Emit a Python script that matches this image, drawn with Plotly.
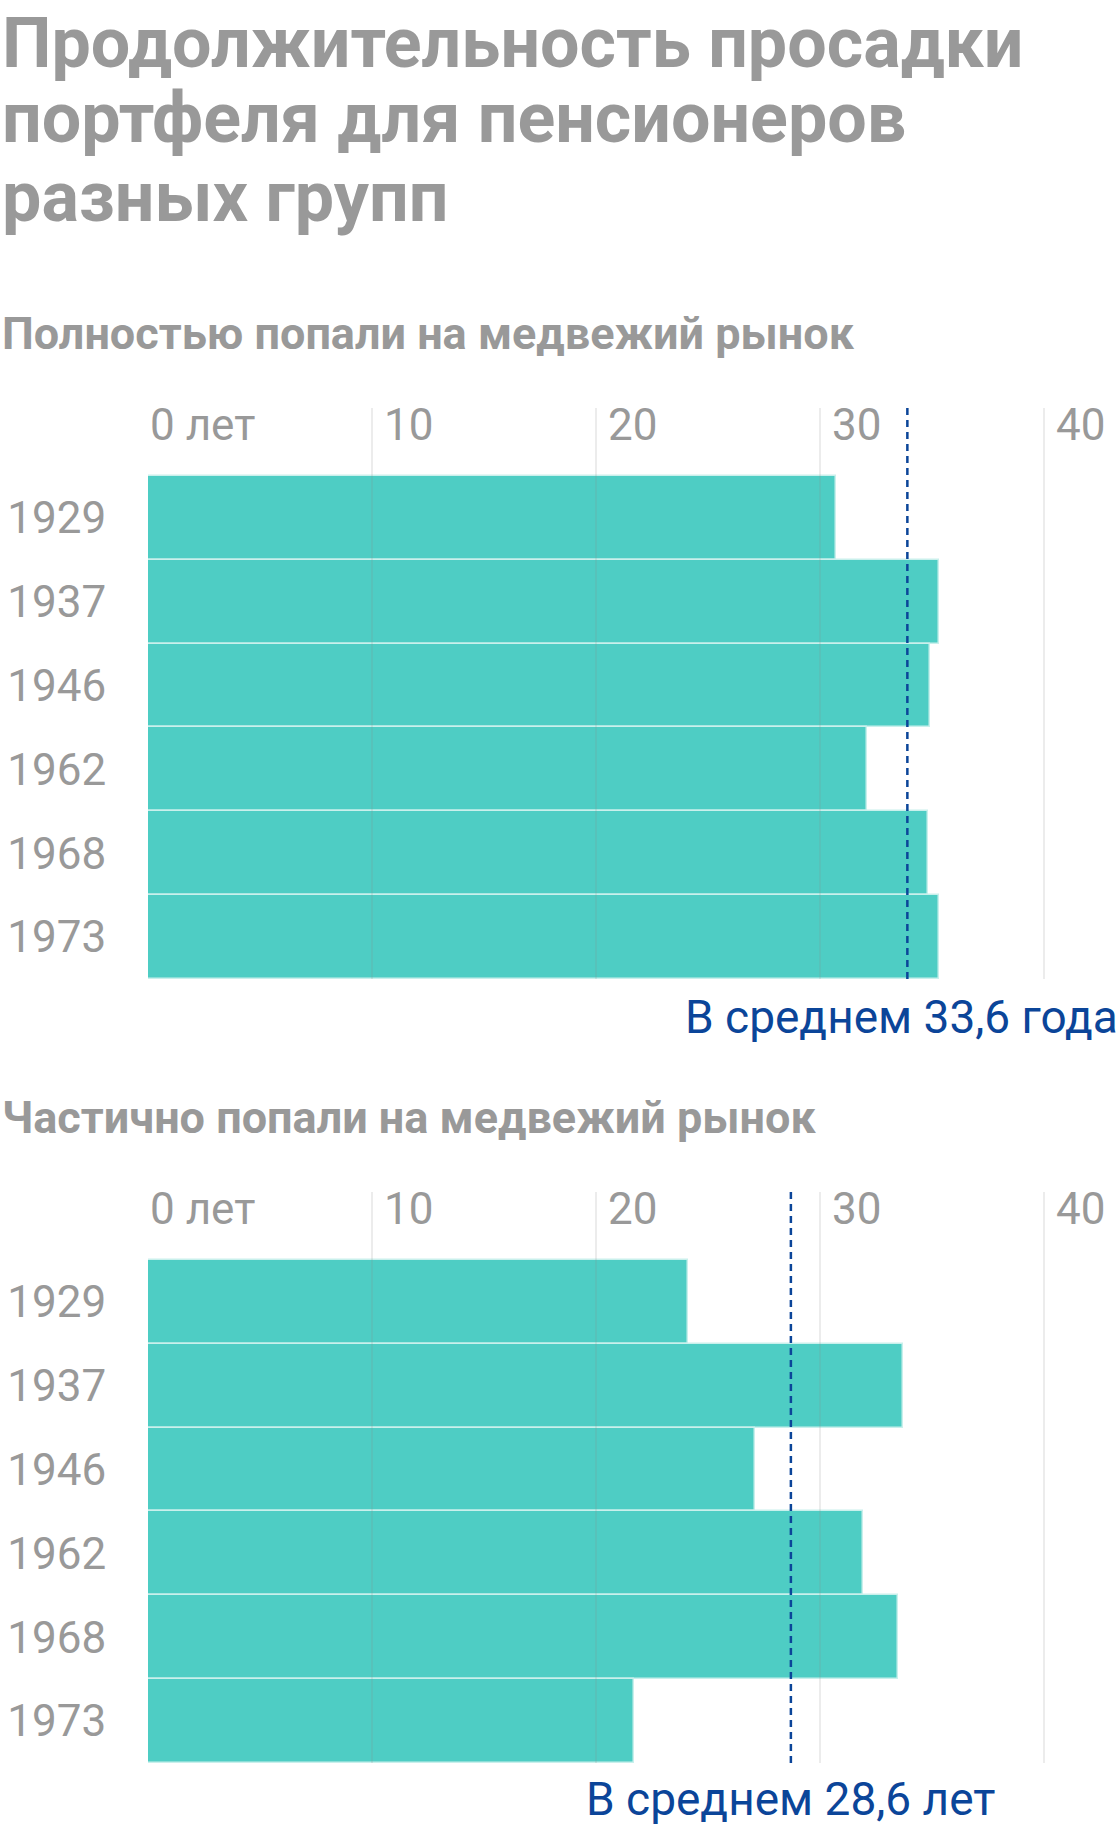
import plotly.graph_objects as go

W, H = 1120, 1832

title_lines = ["Продолжительность просадки", "портфеля для пенсионеров", "разных групп"]
sub1 = "Полностью попали на медвежий рынок"
sub2 = "Частично попали на медвежий рынок"
years = ["1929", "1937", "1946", "1962", "1968", "1973"]
full_vals = [30.7, 35.3, 34.9, 32.1, 34.8, 35.3]
part_vals = [24.1, 33.7, 27.1, 31.9, 33.5, 21.7]
full_avg = 33.9
part_avg = 28.7
full_avg_label = "В среднем 33,6 года"
part_avg_label = "В среднем 28,6 лет"
tick_vals = [0, 10, 20, 30, 40]
tick_text = ["0 лет", "10", "20", "30", "40"]

TEAL = "#4ecdc4"
GRAY = "#999999"
BLUE = "#0b4599"
FONT = "Roboto"

def py(px):
    return 1 - px / H

x0px = 148
unit = 22.4
xmax = (W - x0px) / unit

fig = go.Figure()
fig.add_trace(go.Bar(y=years, x=full_vals, orientation="h", xaxis="x", yaxis="y",
                     marker=dict(color=TEAL, line=dict(color="#c9f0ec", width=1.5)),
                     hoverinfo="x+y"))
fig.add_trace(go.Bar(y=years, x=part_vals, orientation="h", xaxis="x2", yaxis="y2",
                     marker=dict(color=TEAL, line=dict(color="#c9f0ec", width=1.5)),
                     hoverinfo="x+y"))

dom1 = [py(979), py(408)]
dom2 = [py(1763), py(1192)]
yr = [5.5, -1.31]
common_x = dict(range=[0, xmax], domain=[x0px / W, 1], showgrid=False, zeroline=False,
                showticklabels=False, showline=False, fixedrange=True, automargin=False)
common_y = dict(type="category", categoryorder="array", categoryarray=years, range=yr,
                autorange=False, showgrid=False, zeroline=False, showline=False,
                ticks="outside", ticklen=32, tickcolor="rgba(0,0,0,0)", automargin=False,
                tickfont=dict(family=FONT, size=44, color=GRAY), fixedrange=True)

fig.update_layout(
    width=W, height=H, margin=dict(l=0, r=0, t=0, b=0, autoexpand=False),
    paper_bgcolor="white", plot_bgcolor="white", showlegend=False,
    bargap=0,
    xaxis=dict(**common_x, anchor="y"),
    yaxis=dict(**common_y, domain=dom1, anchor="x"),
    xaxis2=dict(**common_x, anchor="y2"),
    yaxis2=dict(**common_y, domain=dom2, anchor="x2"),
)

shapes = []
annotations = []
for xa, ya, avg, lab, tick_y, lab_y, lab_shift in [
    ("x", "y", full_avg, full_avg_label, 425, 1017, -6),
    ("x2", "y2", part_avg, part_avg_label, 1209, 1799, 0),
]:
    for v in tick_vals[1:]:
        shapes.append(dict(type="line", xref=xa, yref=f"{ya} domain", x0=v, x1=v, y0=0, y1=1,
                           line=dict(color="rgba(140,140,140,0.32)", width=1), layer="above"))
    shapes.append(dict(type="line", xref=xa, yref=f"{ya} domain", x0=avg, x1=avg, y0=0, y1=1,
                       line=dict(color=BLUE, width=2.5, dash="7px,5px"), layer="above"))
    for v, t in zip(tick_vals, tick_text):
        annotations.append(dict(x=v, xref=xa, y=py(tick_y), yref="paper", text=t,
                                showarrow=False, xanchor="left", yanchor="middle",
                                xshift=0 if v == 0 else 10,
                                font=dict(family=FONT, size=44, color=GRAY)))
    annotations.append(dict(x=avg, xref=xa, y=py(lab_y), yref="paper", text=lab,
                            showarrow=False, xanchor="center", yanchor="middle", xshift=lab_shift,
                            font=dict(family=FONT, size=46, color=BLUE)))

for i, (line, top) in enumerate(zip(title_lines, [0, 75, 154])):
    annotations.append(dict(x=0, xref="paper", y=py(top), yref="paper", text=f"<b>{line}</b>",
                            showarrow=False, xanchor="left", yanchor="top",
                            font=dict(family=FONT, size=70, color=GRAY)))
for t, cy in [(sub1, 333), (sub2, 1117)]:
    annotations.append(dict(x=0, xref="paper", y=py(cy), yref="paper", text=f"<b>{t}</b>",
                            showarrow=False, xanchor="left", yanchor="middle",
                            font=dict(family=FONT, size=45, color=GRAY)))

fig.update_layout(shapes=shapes, annotations=annotations)
fig.write_html("out.html")
